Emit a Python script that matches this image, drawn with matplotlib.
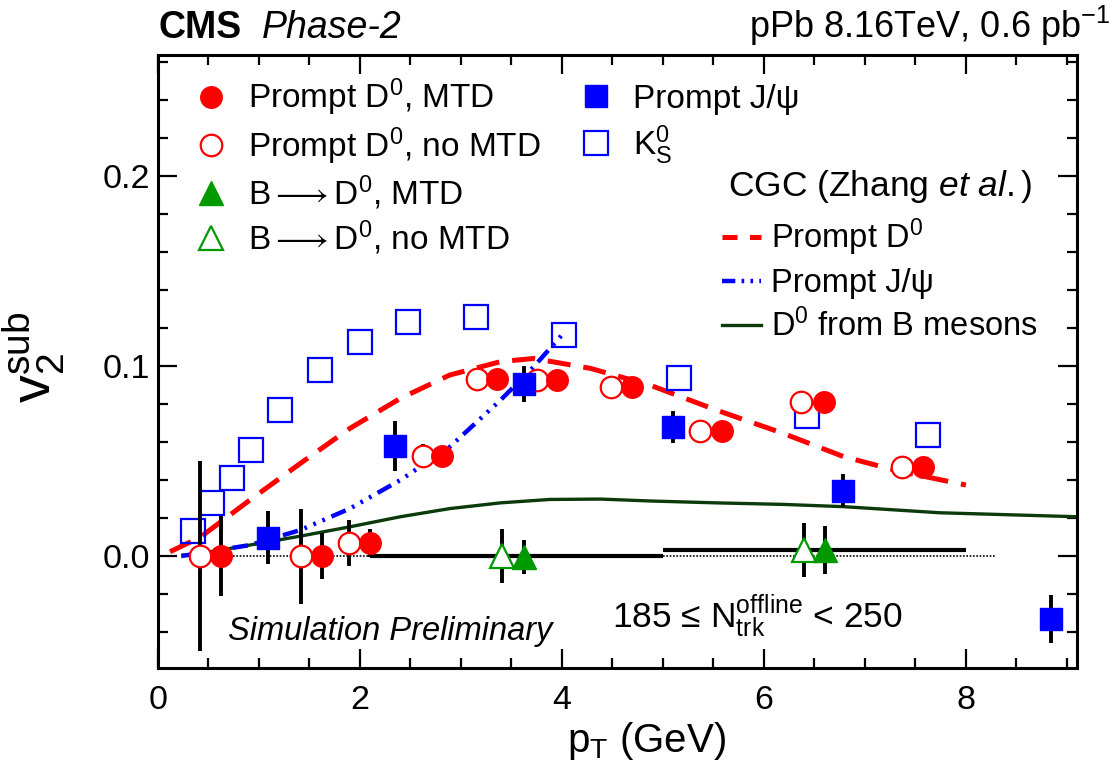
import matplotlib
matplotlib.use("Agg")
import matplotlib.pyplot as plt
from matplotlib.lines import Line2D
from matplotlib.ticker import MultipleLocator

plt.rcParams['font.family'] = ['Liberation Sans', 'DejaVu Sans']
plt.rcParams['mathtext.fontset'] = 'custom'
plt.rcParams['mathtext.rm'] = 'Liberation Sans'
plt.rcParams['mathtext.it'] = 'Liberation Sans:italic'
plt.rcParams['mathtext.bf'] = 'Liberation Sans:bold'
plt.rcParams['mathtext.sf'] = 'Liberation Sans'

# ---------------- data ----------------
pt_d0_mtd = [0.62, 1.62, 2.10, 2.81, 3.36, 3.95, 4.69, 5.58, 6.59, 7.58]
v2_d0_mtd = [0.000, 0.000, 0.007, 0.0526, 0.0932, 0.0926, 0.0891, 0.0658, 0.0809, 0.047]
err_d0_mtd = [0.021, 0.012, 0.0075, 0.004, 0.003, 0.003, 0.003, 0.003, 0.003, 0.003]

pt_d0_nomtd = [0.42, 1.42, 1.89, 2.62, 3.16, 3.75, 4.49, 5.37, 6.37, 7.37]
v2_d0_nomtd = [0.000, 0.000, 0.007, 0.0528, 0.0932, 0.0926, 0.089, 0.0658, 0.0812, 0.047]
err_d0_nomtd = [0.050, 0.025, 0.012, 0.006, 0.004, 0.004, 0.004, 0.004, 0.004, 0.004]

pt_jpsi = [1.09, 2.35, 3.62, 5.10, 6.78, 8.84]
v2_jpsi = [0.0096, 0.058, 0.0904, 0.068, 0.0344, -0.0333]
err_jpsi = [0.014, 0.013, 0.0095, 0.0086, 0.0087, 0.0127]

pt_k0s = [0.35, 0.535, 0.73, 0.92, 1.21, 1.60, 2.00, 2.48, 3.15, 4.02, 5.16, 6.43, 7.62]
v2_k0s = [0.0133, 0.028, 0.041, 0.056, 0.0767, 0.0977, 0.1128, 0.123, 0.126, 0.1165, 0.0935, 0.0737, 0.0637]

pt_b_mtd = [3.62, 6.60]
v2_b_mtd = [-0.0003, 0.0032]
err_b_mtd = [0.009, 0.0125]

pt_b_nomtd = [3.41, 6.40]
v2_b_nomtd = [0.0, 0.0032]
err_b_nomtd = [0.014, 0.014]

# CGC model curves
cgc_d0_pt = [0.12, 0.42, 0.91, 1.41, 1.90, 2.40, 2.89, 3.39, 3.72, 4.28, 4.87, 5.53, 6.19, 6.79, 7.35, 8.0]
cgc_d0_v2 = [0.0023, 0.010, 0.0295, 0.0488, 0.0672, 0.083, 0.0953, 0.1023, 0.104, 0.0988, 0.090, 0.0768, 0.0646, 0.0523, 0.0445, 0.0374]

cgc_jpsi_pt = [0.23, 0.91, 1.41, 1.90, 2.40, 2.89, 3.39, 3.72, 4.01]
cgc_jpsi_v2 = [0.0, 0.0058, 0.0137, 0.025, 0.040, 0.0575, 0.082, 0.0996, 0.117]

cgc_b_pt = [0.25, 0.42, 0.91, 1.41, 1.90, 2.40, 2.89, 3.39, 3.88, 4.38, 4.87, 5.53, 6.19, 6.79, 7.74, 9.1]
cgc_b_v2 = [0.0005, 0.0014, 0.0058, 0.0105, 0.0154, 0.0207, 0.025, 0.028, 0.0298, 0.030, 0.029, 0.028, 0.0272, 0.026, 0.0228, 0.0207]

# reference lines (zero levels)
ref_solid_y = [0.0, 0.0032]
ref_solid_xmin = [2.1, 5.0]
ref_solid_xmax = [5.0, 8.0]
ref_dotted_xmin = 0.25
ref_dotted_xmax = 8.3

RED = '#ff0000'
BLUE = '#0000ff'
GREEN = '#009900'
DKGREEN = '#0b3b0b'

# ---------------- figure ----------------
fig = plt.figure(figsize=(11.18, 7.79), dpi=100)
ax = fig.add_axes([158/1118, 1 - 668/779, (1077-158)/1118, (668-55)/779])
ax.set_xlim(0, 9.1)
ax.set_ylim(-0.0589, 0.2637)

# reference lines
ax.hlines(0.0, ref_dotted_xmin, ref_dotted_xmax, colors='black', linestyles=(0, (1, 1)), lw=1.2, zorder=1)
ax.hlines(ref_solid_y, ref_solid_xmin, ref_solid_xmax, colors='black', lw=3.0, zorder=1)

# model curves
ax.plot(cgc_b_pt, cgc_b_v2, color=DKGREEN, lw=2.4, zorder=2)
ax.plot(cgc_d0_pt, cgc_d0_v2, color=RED, lw=3.6, ls=(0, (4.6, 2.6)), zorder=2)
ax.plot(cgc_jpsi_pt, cgc_jpsi_v2, color=BLUE, lw=3.2, ls=(0, (3.5, 1.6, 0.6, 1.6, 0.6, 1.6, 0.6, 1.6)), zorder=2)

ekw = dict(ecolor='black', elinewidth=2.8, capsize=0, ls='none')

ax.errorbar(pt_k0s, v2_k0s, fmt='s', ms=17, mfc='none', mec=BLUE, mew=1.6, ls='none', zorder=4)
ax.errorbar(pt_d0_nomtd, v2_d0_nomtd, yerr=err_d0_nomtd, fmt='o', ms=15.5, mfc='white', mec=RED, mew=1.6, zorder=5, **ekw)
ax.errorbar(pt_d0_mtd, v2_d0_mtd, yerr=err_d0_mtd, fmt='o', ms=15.5, mfc=RED, mec=RED, zorder=6, **ekw)
ax.errorbar(pt_jpsi, v2_jpsi, yerr=err_jpsi, fmt='s', ms=16.5, mfc=BLUE, mec=BLUE, zorder=6, **ekw)
ax.errorbar(pt_b_nomtd, v2_b_nomtd, yerr=err_b_nomtd, fmt='^', ms=17, mfc='white', mec=GREEN, mew=1.6, zorder=5, **ekw)
ax.errorbar(pt_b_mtd, v2_b_mtd, yerr=err_b_mtd, fmt='^', ms=17, mfc=GREEN, mec=GREEN, zorder=6, **ekw)

# axes styling
for s in ax.spines.values():
    s.set_linewidth(2.2)
ax.xaxis.set_major_locator(MultipleLocator(2))
ax.xaxis.set_minor_locator(MultipleLocator(0.5))
ax.yaxis.set_major_locator(MultipleLocator(0.1))
ax.yaxis.set_minor_locator(MultipleLocator(0.02))
ax.tick_params(which='both', direction='in', top=True, right=True, width=1.6, labelsize=24.5)
ax.tick_params(which='major', length=14)
ax.tick_params(which='minor', length=7.5)
ax.tick_params(axis='x', pad=12)
ax.tick_params(axis='y', pad=6)
ax.set_xticks([0, 2, 4, 6, 8])
ax.set_xticklabels(['0', '2', '4', '6', '8'])
ax.set_yticks([0.0, 0.1, 0.2])
ax.set_yticklabels(['0.0', '0.1', '0.2'])

# axis titles
fig.text(647/1118, 1 - 752/779, r'p$_{\mathrm{T}}$ (GeV)', ha='center', va='baseline', fontsize=29)
fig.text(34/1118, 1 - 357/779, r'$\mathrm{v}_{2}^{\mathrm{sub}}$', rotation=90, ha='center', va='center', fontsize=40)

# header
fig.text(158/1118, 1 - 38/779, 'CMS', fontsize=27, fontweight='bold', ha='left', va='baseline')
fig.text(262/1118, 1 - 38/779, 'Phase-2', fontsize=27, style='italic', ha='left', va='baseline')
fig.text(1110/1118, 1 - 38/779, r'pPb 8.16TeV, 0.6 pb$^{-1}$', fontsize=26, ha='right', va='baseline')

# in-plot texts
ax.text((228-158)/919, (668-640)/613, 'Simulation Preliminary', style='italic', fontsize=23.5,
        transform=ax.transAxes, ha='left', va='baseline')
ax.text((612-158)/919, (668-628)/613, r'185 ≤ N$_{\mathrm{trk}}^{\mathrm{offline}}$ < 250', fontsize=25.5,
        transform=ax.transAxes, ha='left', va='baseline')

# legends
h1 = [Line2D([], [], marker='o', ms=15.5, mfc=RED, mec=RED, ls='none'),
      Line2D([], [], marker='o', ms=15.5, mfc='none', mec=RED, mew=1.6, ls='none'),
      Line2D([], [], marker='^', ms=17, mfc=GREEN, mec=GREEN, ls='none'),
      Line2D([], [], marker='^', ms=17, mfc='none', mec=GREEN, mew=1.6, ls='none')]
l1 = [r'Prompt D$^{0}$, MTD', r'Prompt D$^{0}$, no MTD',
      r'B$\longrightarrow$D$^{0}$, MTD', r'B$\longrightarrow$D$^{0}$, no MTD']
leg1 = ax.legend(h1, l1, loc='upper left', bbox_to_anchor=((194-158)/919, (668-77)/613), frameon=False,
                 fontsize=24, handlelength=1.0, handletextpad=0.62, labelspacing=0.2, borderpad=0, borderaxespad=0)
ax.add_artist(leg1)

h2 = [Line2D([], [], marker='s', ms=16.5, mfc=BLUE, mec=BLUE, ls='none'),
      Line2D([], [], marker='s', ms=17, mfc='none', mec=BLUE, mew=1.6, ls='none')]
l2 = ['Prompt J/ψ', r'K$_{\mathrm{S}}^{0}$']
leg2 = ax.legend(h2, l2, loc='upper left', bbox_to_anchor=((579-158)/919, (668-84)/613), frameon=False,
                 fontsize=24, handlelength=1.0, handletextpad=0.62, labelspacing=0.25, borderpad=0, borderaxespad=0)
ax.add_artist(leg2)

ax.text((728-158)/919, (668-196)/613, r'CGC (Zhang $\mathit{et\ al.}$)', fontsize=25.5,
        transform=ax.transAxes, ha='left', va='baseline')

h3 = [Line2D([], [], color=RED, lw=3.6, ls=(0, (3.0, 2.5))),
      Line2D([], [], color=BLUE, lw=3.2, ls=(0, (3.0, 1.4, 0.6, 1.4, 0.6, 1.4, 0.6, 1.4))),
      Line2D([], [], color=DKGREEN, lw=2.4)]
l3 = [r'Prompt D$^{0}$', 'Prompt J/ψ', r'D$^{0}$ from B mesons']
leg3 = ax.legend(h3, l3, loc='upper left', bbox_to_anchor=((722-158)/919, (668-217)/613), frameon=False,
                 fontsize=23.5, handlelength=1.2, handletextpad=0.3, labelspacing=0.3, borderpad=0, borderaxespad=0)

fig.savefig('out.png', dpi=100)
